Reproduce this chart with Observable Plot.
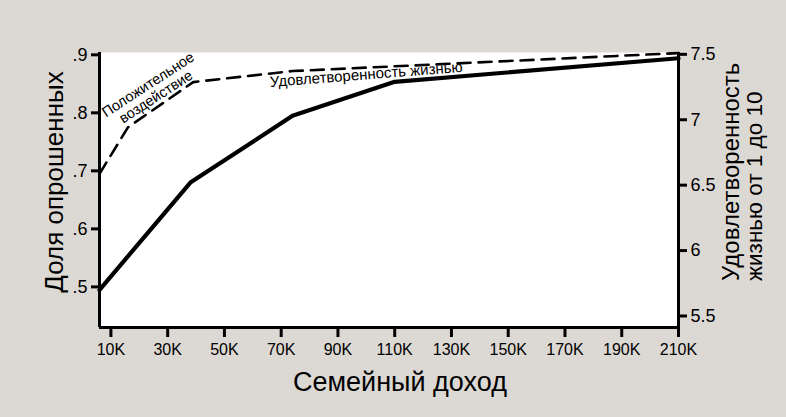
<!DOCTYPE html>
<html><head><meta charset="utf-8">
<script src="https://cdn.jsdelivr.net/npm/d3@7"></script>
<script src="https://cdn.jsdelivr.net/npm/@observablehq/plot@0.6"></script>
<style>
html,body{margin:0;padding:0;background:#dcd8d3;}
svg{display:block;}
</style></head>
<body><div id="chart"></div>
<script>
// income in thousands
const incomeSatisfaction = [6, 38, 74, 110, 210];
const satisfaction = [5.70, 6.52, 7.03, 7.29, 7.47];
const incomePositive = [6, 16, 39, 74, 210];
const positiveShare = [0.695, 0.775, 0.853, 0.872, 0.903];
const xTicks = [10, 30, 50, 70, 90, 110, 130, 150, 170, 190, 210];
const leftTicks = [0.5, 0.6, 0.7, 0.8, 0.9];
const rightTicks = [5.5, 6, 6.5, 7, 7.5];
const labelPositive = "Положительное\nвоздействие";
const labelSatisfaction = "Удовлетворенность жизнью";

const xDomain = [5.98, 210];
const leftDomain = [0.430, 0.904];
const rightDomain = [5.412, 7.514];
const toLeft = v => leftDomain[0] + (v - rightDomain[0]) / (rightDomain[1] - rightDomain[0]) * (leftDomain[1] - leftDomain[0]);
const fromLeft = v => rightDomain[0] + (v - leftDomain[0]) / (leftDomain[1] - leftDomain[0]) * (rightDomain[1] - rightDomain[0]);

const solid = incomeSatisfaction.map((x, i) => ({x, y: toLeft(satisfaction[i])}));
const dashed = incomePositive.map((x, i) => ({x, y: positiveShare[i]}));

const font = "Liberation Sans, Arial, sans-serif";
const plot = Plot.plot({
  width: 786, height: 417,
  marginLeft: 99, marginRight: 108, marginTop: 52, marginBottom: 90,
  style: {background: "#dcd8d3", fontFamily: font, color: "#000"},
  x: {domain: xDomain},
  y: {domain: leftDomain},
  marks: [
    Plot.frame({fill: "white", stroke: null}),
    Plot.line(dashed, {x: "x", y: "y", stroke: "black", strokeWidth: 2.6, strokeDasharray: "13,8", strokeLinejoin: "round"}),
    Plot.line(solid, {x: "x", y: "y", stroke: "black", strokeWidth: 4.2, strokeLinejoin: "round"}),
    Plot.ruleX([xDomain[0]], {stroke: "black", strokeWidth: 3}),
    Plot.ruleX([xDomain[1]], {stroke: "black", strokeWidth: 3}),
    Plot.ruleY([leftDomain[0]], {stroke: "black", strokeWidth: 3}),
    Plot.axisX(xTicks, {tickSize: 10, strokeWidth: 3, tickPadding: 6, fontSize: 16, tickFormat: d => d + "K", label: null}),
    Plot.axisY(leftTicks, {anchor: "left", tickSize: 8, strokeWidth: 3, tickPadding: 4, fontSize: 18, tickFormat: d => String(d).replace(/^0/, ""), label: null}),
    Plot.axisY(rightTicks.map(toLeft), {anchor: "right", tickSize: 8, strokeWidth: 3, tickPadding: 4, fontSize: 18, tickFormat: d => String(Math.round(fromLeft(d) * 10) / 10), label: null}),
    Plot.text([{x: 24.5, y: 0.838}], {x: "x", y: "y", text: () => labelPositive, rotate: -33, fontSize: 14.5, lineHeight: 1.0, textAnchor: "middle", fill: "black"}),
    Plot.text([{x: 100, y: 0.866}], {x: "x", y: "y", text: () => labelSatisfaction, rotate: -4.5, fontSize: 15, textAnchor: "middle", fill: "black"})
  ]
});
const svg = d3.select(plot);
svg.append("text").attr("transform", "translate(63,182) rotate(-90)").attr("text-anchor", "middle")
  .attr("font-size", 26).attr("font-family", font).text("Доля опрошенных");
svg.append("text").attr("transform", "translate(739,281) rotate(-90)").attr("text-anchor", "start")
  .attr("font-size", 24).attr("font-family", font).text("Удовлетворенность");
svg.append("text").attr("transform", "translate(762,281) rotate(-90)").attr("text-anchor", "start")
  .attr("font-size", 22.5).attr("font-family", font).text("жизнью от 1 до 10");
svg.append("text").attr("x", 400).attr("y", 391).attr("text-anchor", "middle")
  .attr("font-size", 27).attr("font-family", font).text("Семейный доход");
document.getElementById("chart").appendChild(plot);
</script></body></html>
